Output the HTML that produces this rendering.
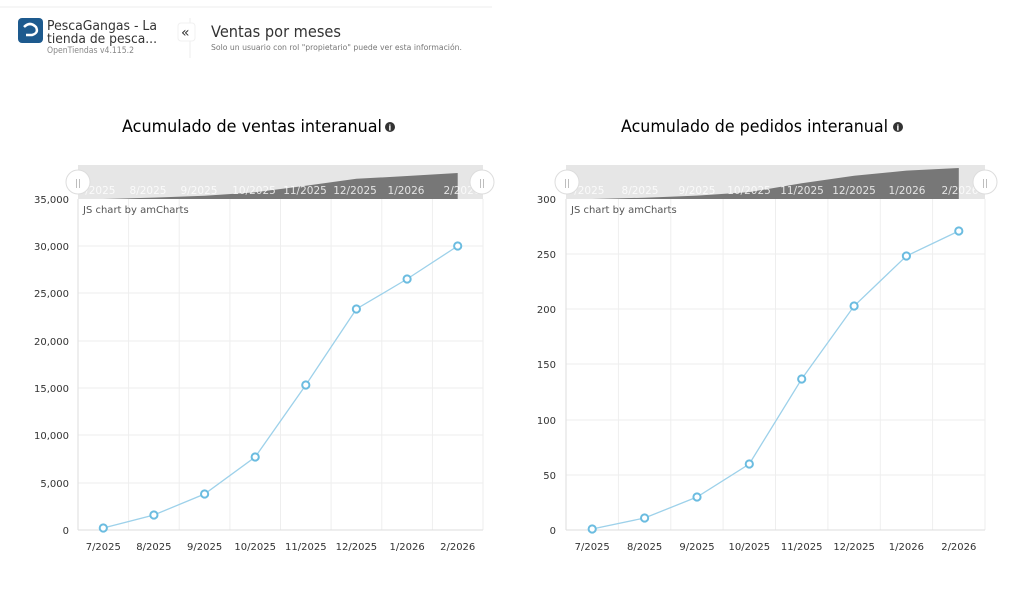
<!DOCTYPE html>
<html><head><meta charset="utf-8"><style>
body{margin:0;width:1024px;height:598px;background:#fff;font-family:"Liberation Sans",sans-serif;overflow:hidden}
svg text{font-family:"DejaVu Sans","Liberation Sans",sans-serif}
</style></head><body>
<svg width="1024" height="598" viewBox="0 0 1024 598" xmlns="http://www.w3.org/2000/svg">
<line x1="0" y1="7" x2="492" y2="7" stroke="#eee"/>
<rect x="18" y="18" width="25" height="25" rx="4" fill="#1d5a8e"/>
<path d="M24 27 q6 -6 12 0 q3 6 -4 8 l-6 0" stroke="#fff" stroke-width="2.5" fill="none"/>
<text x="47" y="30" font-size="13.5" fill="#333" textLength="110" lengthAdjust="spacingAndGlyphs">PescaGangas - La</text>
<text x="47" y="43" font-size="13.5" fill="#333" textLength="110" lengthAdjust="spacingAndGlyphs">tienda de pesca...</text>
<text x="47" y="53" font-size="8.5" fill="#888" textLength="87" lengthAdjust="spacingAndGlyphs">OpenTiendas v4.115.2</text>
<line x1="190" y1="18" x2="190" y2="58" stroke="#eee"/>
<rect x="178" y="23" width="17" height="18" rx="3" fill="#fff" stroke="#f0f0f0"/>
<text x="181" y="37" font-size="14" fill="#333">«</text>
<text x="211" y="37" font-size="16" fill="#333" textLength="130" lengthAdjust="spacingAndGlyphs">Ventas por meses</text>
<text x="211" y="50" font-size="8" fill="#777" textLength="251" lengthAdjust="spacingAndGlyphs">Solo un usuario con rol "propietario" puede ver esta información.</text>

<!-- Left chart -->
<text x="122" y="132" font-size="17" fill="#000" textLength="260" lengthAdjust="spacingAndGlyphs">Acumulado de ventas interanual</text>
<circle cx="390" cy="127" r="5" fill="#333"/><text x="388.5" y="130.5" font-size="8" fill="#fff" font-weight="bold">i</text>
<g stroke="#eee" stroke-width="1">
<line x1="78" y1="246" x2="483" y2="246"/><line x1="78" y1="293" x2="483" y2="293"/><line x1="78" y1="341" x2="483" y2="341"/><line x1="78" y1="388" x2="483" y2="388"/><line x1="78" y1="435" x2="483" y2="435"/><line x1="78" y1="483" x2="483" y2="483"/>
<line x1="128.6" y1="199" x2="128.6" y2="530"/><line x1="179.2" y1="199" x2="179.2" y2="530"/><line x1="229.9" y1="199" x2="229.9" y2="530"/><line x1="280.5" y1="199" x2="280.5" y2="530"/><line x1="331.1" y1="199" x2="331.1" y2="530"/><line x1="381.8" y1="199" x2="381.8" y2="530"/><line x1="432.4" y1="199" x2="432.4" y2="530"/><line x1="483" y1="199" x2="483" y2="530"/>
</g>
<line x1="78" y1="199" x2="78" y2="530" stroke="#ddd"/><line x1="78" y1="530" x2="483" y2="530" stroke="#ddd"/>
<g font-size="10" fill="#333" text-anchor="end">
<text x="69" y="203">35,000</text><text x="69" y="250">30,000</text><text x="69" y="297">25,000</text><text x="69" y="345">20,000</text><text x="69" y="392">15,000</text><text x="69" y="439">10,000</text><text x="69" y="487">5,000</text><text x="69" y="534">0</text>
</g>
<g font-size="10" fill="#333" text-anchor="middle">
<text x="103.3" y="550">7/2025</text><text x="153.9" y="550">8/2025</text><text x="204.6" y="550">9/2025</text><text x="255.2" y="550">10/2025</text><text x="305.8" y="550">11/2025</text><text x="356.4" y="550">12/2025</text><text x="407.1" y="550">1/2026</text><text x="457.7" y="550">2/2026</text>
</g>
<rect x="78" y="165" width="405" height="34" fill="#e6e6e6"/>
<polygon points="78,199 103.3,199 153.9,197.6 204.6,195.7 255.2,192.3 305.8,185.7 356.4,178.8 407.1,176 457.7,173 457.7,199" fill="#777"/>
<g font-size="10.5" fill="#fff" fill-opacity="0.8" text-anchor="middle">
<text x="97" y="194">7/2025</text><text x="148" y="194">8/2025</text><text x="199" y="194">9/2025</text><text x="254" y="194">10/2025</text><text x="305" y="194">11/2025</text><text x="355" y="194">12/2025</text><text x="406" y="194">1/2026</text><text x="462" y="194">2/2026</text>
</g>
<circle cx="78" cy="182" r="12" fill="#fff" stroke="#ddd"/><text x="78" y="186" font-size="9" fill="#aaa" text-anchor="middle">||</text>
<circle cx="482" cy="182" r="12" fill="#fff" stroke="#ddd"/><text x="482" y="186" font-size="9" fill="#aaa" text-anchor="middle">||</text>
<text x="83" y="213" font-size="10" fill="#555">JS chart by amCharts</text>
<polyline points="103.3,528 153.9,515 204.6,494 255.2,457 305.8,385 356.4,309 407.1,279 457.7,246" fill="none" stroke="#9dd1ea" stroke-width="1.3"/>
<g fill="#fff" stroke="#6bbce0" stroke-width="2">
<circle cx="103.3" cy="528" r="3.6"/><circle cx="153.9" cy="515" r="3.6"/><circle cx="204.6" cy="494" r="3.6"/><circle cx="255.2" cy="457" r="3.6"/><circle cx="305.8" cy="385" r="3.6"/><circle cx="356.4" cy="309" r="3.6"/><circle cx="407.1" cy="279" r="3.6"/><circle cx="457.7" cy="246" r="3.6"/>
</g>

<!-- Right chart -->
<text x="621" y="132" font-size="17" fill="#000" textLength="267" lengthAdjust="spacingAndGlyphs">Acumulado de pedidos interanual</text>
<circle cx="898" cy="127" r="5" fill="#333"/><text x="896.5" y="130.5" font-size="8" fill="#fff" font-weight="bold">i</text>
<g stroke="#eee" stroke-width="1">
<line x1="566" y1="254" x2="985" y2="254"/><line x1="566" y1="309" x2="985" y2="309"/><line x1="566" y1="364" x2="985" y2="364"/><line x1="566" y1="420" x2="985" y2="420"/><line x1="566" y1="475" x2="985" y2="475"/>
<line x1="618.4" y1="199" x2="618.4" y2="530"/><line x1="670.8" y1="199" x2="670.8" y2="530"/><line x1="723.1" y1="199" x2="723.1" y2="530"/><line x1="775.5" y1="199" x2="775.5" y2="530"/><line x1="827.9" y1="199" x2="827.9" y2="530"/><line x1="880.3" y1="199" x2="880.3" y2="530"/><line x1="932.6" y1="199" x2="932.6" y2="530"/><line x1="985" y1="199" x2="985" y2="530"/>
</g>
<line x1="566" y1="199" x2="566" y2="530" stroke="#ddd"/><line x1="566" y1="530" x2="985" y2="530" stroke="#ddd"/>
<g font-size="10" fill="#333" text-anchor="end">
<text x="556" y="203">300</text><text x="556" y="258">250</text><text x="556" y="313">200</text><text x="556" y="368">150</text><text x="556" y="424">100</text><text x="556" y="479">50</text><text x="556" y="534">0</text>
</g>
<g font-size="10" fill="#333" text-anchor="middle">
<text x="592.2" y="550">7/2025</text><text x="644.6" y="550">8/2025</text><text x="697" y="550">9/2025</text><text x="749.3" y="550">10/2025</text><text x="801.7" y="550">11/2025</text><text x="854.1" y="550">12/2025</text><text x="906.4" y="550">1/2026</text><text x="958.8" y="550">2/2026</text>
</g>
<rect x="566" y="165" width="419" height="34" fill="#e6e6e6"/>
<polygon points="566,199 592.2,199 644.6,197.7 697,195.6 749.3,192.1 801.7,183.3 854.1,175.8 906.4,170.6 958.8,168 958.8,199" fill="#777"/>
<g font-size="10.5" fill="#fff" fill-opacity="0.8" text-anchor="middle">
<text x="586" y="194">7/2025</text><text x="640" y="194">8/2025</text><text x="697" y="194">9/2025</text><text x="749" y="194">10/2025</text><text x="802" y="194">11/2025</text><text x="854" y="194">12/2025</text><text x="907" y="194">1/2026</text><text x="960" y="194">2/2026</text>
</g>
<circle cx="567" cy="182" r="12" fill="#fff" stroke="#ddd"/><text x="567" y="186" font-size="9" fill="#aaa" text-anchor="middle">||</text>
<circle cx="985" cy="182" r="12" fill="#fff" stroke="#ddd"/><text x="985" y="186" font-size="9" fill="#aaa" text-anchor="middle">||</text>
<text x="571" y="213" font-size="10" fill="#555">JS chart by amCharts</text>
<polyline points="592.2,529 644.6,518 697,497 749.3,464 801.7,379 854.1,306 906.4,256 958.8,231" fill="none" stroke="#9dd1ea" stroke-width="1.3"/>
<g fill="#fff" stroke="#6bbce0" stroke-width="2">
<circle cx="592.2" cy="529" r="3.6"/><circle cx="644.6" cy="518" r="3.6"/><circle cx="697" cy="497" r="3.6"/><circle cx="749.3" cy="464" r="3.6"/><circle cx="801.7" cy="379" r="3.6"/><circle cx="854.1" cy="306" r="3.6"/><circle cx="906.4" cy="256" r="3.6"/><circle cx="958.8" cy="231" r="3.6"/>
</g>
</svg>
</body></html>
